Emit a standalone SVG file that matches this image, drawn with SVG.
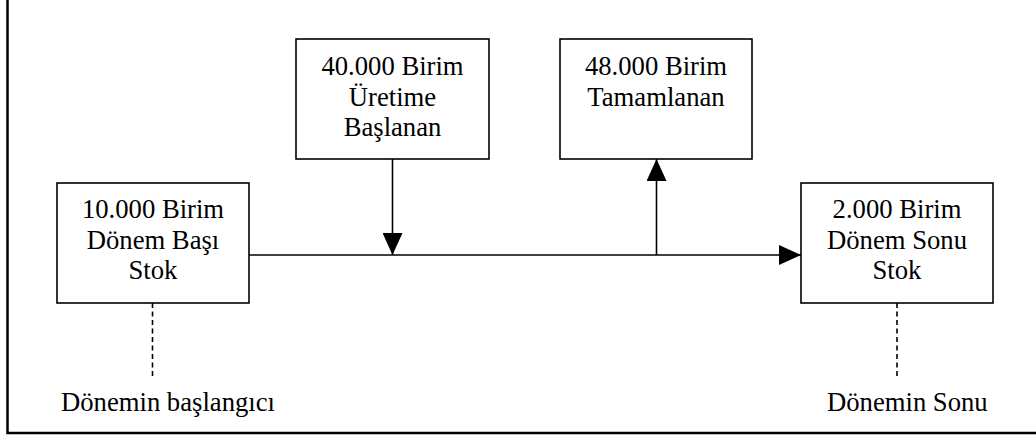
<svg xmlns="http://www.w3.org/2000/svg" width="1036" height="436" viewBox="0 0 1036 436">
<style>
.box{fill:#fff;stroke:#000;stroke-width:1.6}
.t{font-family:"Liberation Serif","Times New Roman",serif;font-size:26.67px;fill:#000;text-anchor:middle}
.tl{font-family:"Liberation Serif","Times New Roman",serif;font-size:26.67px;fill:#000}
.c{stroke:#000;stroke-width:1.6;fill:none}
.d{stroke:#000;stroke-width:1.6;fill:none;stroke-dasharray:5 3.5}
</style>
<defs>
<marker id="ah" markerUnits="userSpaceOnUse" markerWidth="22" markerHeight="20" viewBox="0 0 22 20" refX="22" refY="10" orient="auto">
<path d="M0,0 L22,10 L0,20 z" fill="#000"/>
</marker>
</defs>
<path d="M7.5,0 V433 H1036" fill="none" stroke="#000" stroke-width="2.5"/>
<g id="connectors">
<line class="c" x1="249" y1="255" x2="801" y2="255" marker-end="url(#ah)"/>
<line class="c" x1="392.5" y1="159" x2="392.5" y2="255" marker-end="url(#ah)"/>
<line class="c" x1="656.5" y1="255" x2="656.5" y2="159" marker-end="url(#ah)"/>
<line class="d" x1="152.5" y1="303" x2="152.5" y2="376"/>
<line class="d" x1="897" y1="303" x2="897" y2="376"/>
</g>
<g id="n-basi">
<rect class="box" x="57" y="183" width="192" height="120"/>
<text class="t" x="153" y="218">10.000 Birim</text>
<text class="t" x="153" y="248.7">Dönem Başı</text>
<text class="t" x="153" y="279.4">Stok</text>
</g>
<g id="n-uretime">
<rect class="box" x="296" y="39" width="193" height="120"/>
<text class="t" x="392.5" y="75">40.000 Birim</text>
<text class="t" x="392.5" y="105.7">Üretime</text>
<text class="t" x="392.5" y="136.4">Başlanan</text>
</g>
<g id="n-tamam">
<rect class="box" x="560" y="39" width="192" height="120"/>
<text class="t" x="656" y="75">48.000 Birim</text>
<text class="t" x="656" y="105.7">Tamamlanan</text>
</g>
<g id="n-sonu">
<rect class="box" x="801" y="183" width="192" height="120"/>
<text class="t" x="897" y="218">2.000 Birim</text>
<text class="t" x="897" y="248.7">Dönem Sonu</text>
<text class="t" x="897" y="279.4">Stok</text>
</g>
<g id="lbl-start"><text class="tl" x="61" y="411">Dönemin başlangıcı</text></g>
<g id="lbl-end"><text class="tl" x="827" y="411">Dönemin Sonu</text></g>
</svg>
